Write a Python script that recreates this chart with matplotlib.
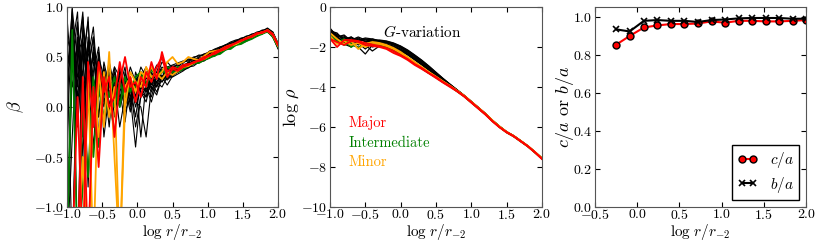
import numpy as np
import matplotlib
matplotlib.use("Agg")
import matplotlib.pyplot as plt

plt.rcParams["font.family"] = ["cmr10"]
plt.rcParams["mathtext.fontset"] = "cm"
plt.rcParams["axes.formatter.use_mathtext"] = True
plt.rcParams["axes.unicode_minus"] = True
plt.rcParams["xtick.direction"] = "in"
plt.rcParams["ytick.direction"] = "in"
plt.rcParams["xtick.top"] = True
plt.rcParams["ytick.right"] = True
plt.rcParams["xtick.labelsize"] = 10
plt.rcParams["ytick.labelsize"] = 10
plt.rcParams["xtick.major.pad"] = 0.5
plt.rcParams["ytick.major.pad"] = 2
plt.rcParams["axes.edgecolor"] = "#555555"

# ------------------------------
# panel 1: velocity anisotropy beta
# ------------------------------
r_beta = np.arange(-1.0, 2.0001, 0.075)

beta_black = [
    [0.3, 0.98, 0.45, 0.9, 0.2, 0.55, -0.1, 0.4, 0.1, 0.35, 0.05, 0.3, 0.15, 0.25, 0.1, 0.3, 0.22, 0.35, 0.28, 0.4,
     0.36, 0.40, 0.39, 0.44, 0.45, 0.49, 0.48, 0.53, 0.55, 0.57, 0.61, 0.62, 0.66, 0.66, 0.70, 0.70, 0.74, 0.74, 0.77, 0.71, 0.59],
    [-1.5, 0.6, 0.95, -0.3, 0.7, 0.1, 0.45, -0.2, 0.3, 0.05, 0.4, 0.0, 0.2, -0.1, 0.25, 0.15, 0.3, 0.2, 0.38, 0.3,
     0.38, 0.36, 0.43, 0.41, 0.47, 0.45, 0.51, 0.50, 0.56, 0.56, 0.61, 0.61, 0.66, 0.65, 0.70, 0.69, 0.74, 0.73, 0.77, 0.73, 0.61],
    [0.0, 1.0, -1.5, 0.85, 0.4, 0.7, 0.2, 0.35, -0.05, 0.3, 0.1, 0.2, -0.05, 0.35, 0.2, 0.25, 0.15, 0.3, 0.25, 0.33,
     0.34, 0.39, 0.40, 0.42, 0.46, 0.46, 0.50, 0.51, 0.54, 0.57, 0.59, 0.62, 0.64, 0.67, 0.68, 0.71, 0.72, 0.75, 0.78, 0.74, 0.62],
    [-1.5, -0.3, 0.8, 0.3, 0.9, -0.2, 0.5, 0.1, 0.4, 0.15, 0.3, -0.05, 0.1, -0.4, 0.15, 0.05, 0.3, 0.25, 0.32, 0.28,
     0.33, 0.37, 0.38, 0.43, 0.44, 0.48, 0.49, 0.52, 0.53, 0.58, 0.58, 0.63, 0.64, 0.66, 0.69, 0.72, 0.73, 0.76, 0.76, 0.72, 0.60],
    [0.5, 0.35, 0.6, -0.5, 0.65, 0.3, -0.1, 0.45, 0.2, 0.4, 0.05, 0.25, 0.3, 0.1, 0.35, 0.2, 0.1, 0.3, 0.4, 0.35,
     0.40, 0.42, 0.40, 0.45, 0.48, 0.47, 0.52, 0.52, 0.57, 0.57, 0.62, 0.63, 0.65, 0.68, 0.68, 0.72, 0.72, 0.76, 0.79, 0.75, 0.63],
    [-0.3, 0.9, 0.0, 0.65, -0.8, 0.45, 0.25, 0.0, 0.35, -0.1, 0.25, 0.1, 0.3, 0.05, 0.0, -0.3, 0.2, 0.12, 0.3, 0.22,
     0.31, 0.35, 0.37, 0.39, 0.43, 0.44, 0.47, 0.49, 0.53, 0.55, 0.58, 0.60, 0.63, 0.65, 0.68, 0.70, 0.72, 0.74, 0.75, 0.70, 0.58],
    [0.9, 0.2, 0.5, 0.7, 0.1, 0.6, 0.3, 0.2, 0.45, 0.2, 0.0, 0.35, 0.1, 0.2, 0.4, 0.3, 0.38, 0.3, 0.45, 0.4,
     0.42, 0.44, 0.46, 0.47, 0.50, 0.51, 0.53, 0.55, 0.58, 0.60, 0.62, 0.65, 0.67, 0.68, 0.71, 0.72, 0.75, 0.76, 0.78, 0.75, 0.64],
    [-1.5, 0.75, 0.3, 0.5, 0.85, 0.0, 0.55, -0.3, 0.15, 0.25, -0.2, 0.1, 0.2, -0.2, 0.1, 0.2, 0.05, 0.25, 0.2, 0.3,
     0.30, 0.33, 0.36, 0.40, 0.41, 0.45, 0.46, 0.50, 0.52, 0.54, 0.57, 0.60, 0.62, 0.65, 0.67, 0.70, 0.71, 0.74, 0.76, 0.71, 0.59],
    [0.6, -1.5, 0.7, 0.0, 0.5, 0.8, 0.1, 0.3, -0.2, 0.4, 0.3, 0.15, 0.4, 0.25, 0.2, 0.35, 0.3, 0.42, 0.35, 0.45,
     0.39, 0.43, 0.45, 0.46, 0.49, 0.52, 0.51, 0.56, 0.57, 0.60, 0.61, 0.64, 0.66, 0.69, 0.70, 0.73, 0.74, 0.77, 0.77, 0.73, 0.62],
    [-1.5, 0.4, 0.6, 0.2, 0.35, 0.7, -0.3, 0.25, 0.05, -0.25, 0.2, 0.4, 0.0, 0.3, 0.15, 0.1, 0.35, 0.2, 0.3, 0.35,
     0.35, 0.38, 0.42, 0.44, 0.45, 0.48, 0.50, 0.53, 0.55, 0.56, 0.60, 0.62, 0.65, 0.67, 0.69, 0.71, 0.73, 0.75, 0.78, 0.74, 0.61],
    [0.2, 0.8, -0.2, 0.55, 0.3, -0.4, 0.35, 0.15, 0.3, 0.1, 0.35, 0.2, 0.05, 0.25, -0.3, 0.25, 0.2, 0.3, 0.25, 0.32,
     0.37, 0.37, 0.41, 0.44, 0.46, 0.49, 0.49, 0.54, 0.54, 0.59, 0.60, 0.64, 0.63, 0.68, 0.69, 0.72, 0.72, 0.76, 0.77, 0.72, 0.60],
    [-1.5, -1.5, 0.5, 0.95, 0.0, 0.35, 0.6, 0.05, 0.2, 0.3, 0.15, -0.15, 0.25, 0.15, 0.3, 0.4, 0.25, 0.35, 0.5, 0.38,
     0.41, 0.41, 0.44, 0.48, 0.47, 0.50, 0.53, 0.54, 0.56, 0.59, 0.62, 0.62, 0.66, 0.67, 0.70, 0.71, 0.74, 0.75, 0.78, 0.73, 0.62],
    [0.7, 0.5, 0.85, 0.15, 0.6, 0.2, 0.4, 0.05, 0.25, 0.15, 0.3, 0.25, 0.1, 0.3, 0.2, 0.15, 0.28, 0.32, 0.3, 0.38,
     0.36, 0.39, 0.41, 0.43, 0.45, 0.47, 0.49, 0.51, 0.54, 0.56, 0.59, 0.61, 0.64, 0.66, 0.69, 0.71, 0.73, 0.75, 0.77, 0.72, 0.61],
    [-1.5, 0.9, 0.2, 0.75, 0.45, 0.05, 0.5, 0.3, 0.0, 0.3, 0.2, 0.0, 0.3, 0.1, 0.25, 0.3, 0.18, 0.25, 0.35, 0.3,
     0.34, 0.38, 0.39, 0.42, 0.45, 0.46, 0.49, 0.52, 0.54, 0.57, 0.59, 0.62, 0.65, 0.66, 0.69, 0.70, 0.73, 0.75, 0.77, 0.73, 0.61],
    [0.4, 0.65, 0.1, 0.6, 0.25, 0.5, 0.1, 0.35, 0.15, 0.05, 0.35, 0.15, 0.25, 0.0, 0.2, 0.1, 0.25, 0.15, 0.3, 0.27,
     0.32, 0.35, 0.38, 0.40, 0.43, 0.45, 0.48, 0.50, 0.53, 0.55, 0.58, 0.61, 0.63, 0.66, 0.68, 0.70, 0.73, 0.74, 0.76, 0.71, 0.60],
]

beta_major = [
    [-1.5, -1.5, 0.1, -1.5, 0.45, -0.2, 0.45, 0.15, 0.3, -0.3, 0.25, 0.5, 0.2, 0.25, 0.1, 0.35, 0.25, 0.4, 0.5, 0.3,
     0.38, 0.36, 0.40, 0.42, 0.45, 0.46, 0.48, 0.52, 0.53, 0.56, 0.58, 0.61, 0.64, 0.66, 0.69, 0.70, 0.73, 0.75, 0.76, 0.72, 0.62],
    [-1.5, -1.5, -1.5, 0.3, -1.5, 0.2, -0.6, 0.3, 0.0, 0.1, 0.45, 0.15, 0.3, 0.05, 0.3, 0.2, 0.45, 0.28, 0.55, 0.35,
     0.40, 0.38, 0.42, 0.43, 0.44, 0.47, 0.50, 0.51, 0.55, 0.57, 0.60, 0.62, 0.64, 0.67, 0.68, 0.71, 0.74, 0.74, 0.77, 0.73, 0.62],
]
beta_inter = [
    [-1.5, 0.77, -1.5, -0.8, 0.1, -0.5, 0.2, -0.1, 0.15, 0.0, 0.25, 0.1, 0.2, 0.2, 0.3, 0.25, 0.3, 0.32, 0.36, 0.33,
     0.35, 0.35, 0.38, 0.41, 0.44, 0.44, 0.47, 0.49, 0.52, 0.53, 0.57, 0.59, 0.62, 0.63, 0.66, 0.69, 0.71, 0.74, 0.75, 0.72, 0.62],
    [-1.5, -1.5, -1.5, 0.0, -0.7, 0.3, -0.4, 0.2, 0.1, 0.3, 0.0, 0.3, 0.15, 0.3, 0.35, 0.2, 0.38, 0.3, 0.35, 0.4,
     0.37, 0.40, 0.39, 0.42, 0.43, 0.46, 0.48, 0.50, 0.51, 0.55, 0.58, 0.58, 0.62, 0.64, 0.66, 0.68, 0.71, 0.73, 0.76, 0.70, 0.60],
]
beta_minor = [
    [-1.5, -1.5, -1.5, -1.5, 0.3, -1.5, 0.4, -0.2, 0.55, -0.5, -1.5, 0.2, 0.3, 0.15, 0.35, 0.3, 0.4, 0.3, 0.35, 0.45,
     0.50, 0.43, 0.45, 0.50, 0.48, 0.47, 0.51, 0.55, 0.56, 0.57, 0.60, 0.62, 0.63, 0.66, 0.69, 0.71, 0.73, 0.74, 0.77, 0.73, 0.62],
    [-1.5, -1.5, -1.5, -0.5, -1.5, 0.1, -0.3, 0.35, -0.1, 0.2, -1.5, 0.0, 0.35, 0.25, 0.2, 0.4, 0.3, 0.33, 0.28, 0.35,
     0.32, 0.36, 0.40, 0.41, 0.44, 0.47, 0.48, 0.51, 0.55, 0.56, 0.58, 0.61, 0.63, 0.66, 0.69, 0.70, 0.73, 0.75, 0.76, 0.72, 0.61],
]

# ------------------------------
# panel 2: density profiles log rho
# ------------------------------
r_rho = np.arange(-1.0, 2.0001, 0.1)

rho_black = [
    [-1.1, -1.4, -1.6, -1.5, -1.7, -1.6, -1.65, -1.7, -1.75, -1.85, -2.0, -2.2, -2.45, -2.7, -3.0, -3.3, -3.6, -3.88, -4.15, -4.42, -4.72, -5.02, -5.32, -5.66, -5.96, -6.23, -6.43, -6.68, -6.94, -7.24, -7.56],
    [-1.2, -1.5, -1.4, -1.7, -1.55, -1.75, -1.6, -1.7, -1.8, -1.9, -2.05, -2.25, -2.5, -2.78, -3.05, -3.35, -3.63, -3.9, -4.17, -4.44, -4.74, -5.04, -5.34, -5.68, -5.98, -6.25, -6.45, -6.7, -6.95, -7.25, -7.57],
    [-1.3, -1.35, -1.6, -1.8, -1.6, -1.7, -1.75, -1.75, -1.85, -1.95, -2.1, -2.3, -2.55, -2.82, -3.1, -3.38, -3.65, -3.92, -4.18, -4.45, -4.75, -5.05, -5.35, -5.69, -5.99, -6.26, -6.46, -6.71, -6.96, -7.26, -7.58],
    [-1.15, -1.55, -1.75, -1.5, -1.8, -2.1, -1.8, -1.8, -1.9, -2.0, -2.15, -2.35, -2.6, -2.86, -3.13, -3.4, -3.67, -3.93, -4.19, -4.46, -4.76, -5.06, -5.36, -5.7, -6.0, -6.26, -6.46, -6.71, -6.96, -7.26, -7.58],
    [-1.4, -1.6, -1.5, -1.9, -2.0, -2.35, -1.9, -1.85, -1.95, -2.05, -2.2, -2.4, -2.65, -2.9, -3.16, -3.42, -3.69, -3.94, -4.2, -4.46, -4.76, -5.06, -5.36, -5.7, -6.0, -6.26, -6.46, -6.71, -6.96, -7.26, -7.58],
    [-1.25, -1.45, -1.8, -1.65, -1.5, -1.65, -1.7, -1.65, -1.7, -1.8, -1.95, -2.15, -2.4, -2.66, -2.95, -3.26, -3.57, -3.86, -4.14, -4.42, -4.72, -5.02, -5.33, -5.67, -5.97, -6.24, -6.44, -6.69, -6.95, -7.25, -7.57],
    [-1.35, -1.7, -1.55, -1.6, -1.9, -1.75, -2.0, -1.9, -1.9, -2.0, -2.12, -2.32, -2.58, -2.84, -3.12, -3.4, -3.66, -3.92, -4.18, -4.45, -4.75, -5.05, -5.35, -5.69, -5.99, -6.26, -6.46, -6.71, -6.96, -7.26, -7.58],
    [-1.2, -1.3, -1.7, -1.55, -1.65, -1.55, -1.6, -1.68, -1.72, -1.82, -1.97, -2.18, -2.42, -2.68, -2.97, -3.28, -3.58, -3.87, -4.15, -4.43, -4.73, -5.03, -5.33, -5.67, -5.97, -6.24, -6.44, -6.69, -6.95, -7.25, -7.57],
    [-1.5, -1.65, -1.85, -2.0, -1.7, -1.9, -2.2, -1.95, -1.95, -2.05, -2.2, -2.38, -2.62, -2.88, -3.15, -3.42, -3.68, -3.94, -4.2, -4.46, -4.76, -5.06, -5.36, -5.7, -6.0, -6.26, -6.46, -6.71, -6.96, -7.26, -7.58],
    [-1.05, -1.5, -1.45, -1.75, -1.7, -1.6, -1.7, -1.72, -1.78, -1.88, -2.02, -2.22, -2.47, -2.74, -3.02, -3.32, -3.61, -3.89, -4.16, -4.44, -4.74, -5.04, -5.34, -5.68, -5.98, -6.25, -6.45, -6.7, -6.95, -7.25, -7.57],
]
rho_major = [
    [-1.58, -2.0, -1.65, -1.65, -1.7, -1.8, -1.88, -1.95, -2.05, -2.2, -2.4, -2.6, -2.85, -3.05, -3.3, -3.5, -3.75, -3.95, -4.2, -4.45, -4.75, -5.05, -5.35, -5.7, -6.0, -6.25, -6.45, -6.7, -6.95, -7.25, -7.58],
    [-1.6, -1.75, -1.9, -1.7, -1.75, -1.9, -1.95, -2.0, -2.1, -2.3, -2.45, -2.65, -2.9, -3.1, -3.32, -3.55, -3.78, -4.0, -4.22, -4.48, -4.78, -5.08, -5.38, -5.72, -6.02, -6.27, -6.47, -6.72, -6.97, -7.27, -7.6],
]
rho_inter = [
    [-1.5, -1.8, -1.6, -2.0, -1.75, -1.85, -1.8, -1.95, -2.0, -2.15, -2.35, -2.55, -2.8, -3.05, -3.3, -3.5, -3.73, -3.95, -4.2, -4.45, -4.75, -5.05, -5.35, -5.68, -5.98, -6.25, -6.45, -6.7, -6.95, -7.25, -7.55],
    [-1.4, -1.7, -1.9, -1.8, -2.05, -1.8, -1.9, -1.9, -2.0, -2.2, -2.4, -2.6, -2.83, -3.08, -3.3, -3.52, -3.76, -3.97, -4.22, -4.47, -4.77, -5.07, -5.37, -5.7, -6.0, -6.27, -6.47, -6.72, -6.97, -7.27, -7.57],
]
rho_minor = [
    [-1.3, -1.6, -1.85, -1.7, -2.1, -1.85, -1.75, -1.8, -1.9, -2.05, -2.25, -2.5, -2.75, -3.0, -3.25, -3.48, -3.72, -3.94, -4.18, -4.43, -4.73, -5.03, -5.33, -5.67, -5.97, -6.24, -6.44, -6.69, -6.94, -7.24, -7.55],
    [-1.45, -1.85, -1.7, -1.9, -1.8, -2.0, -1.85, -1.85, -1.95, -2.1, -2.3, -2.55, -2.78, -3.02, -3.27, -3.5, -3.74, -3.96, -4.2, -4.46, -4.76, -5.06, -5.36, -5.7, -6.0, -6.26, -6.46, -6.71, -6.96, -7.26, -7.58],
]

# ------------------------------
# panel 3: axis ratios
# ------------------------------
r_shape = [-0.25, -0.09, 0.08, 0.24, 0.40, 0.56, 0.72, 0.88, 1.04, 1.20, 1.36, 1.52, 1.68, 1.84, 2.00]
c_over_a = [0.856, 0.902, 0.947, 0.958, 0.965, 0.965, 0.968, 0.979, 0.972, 0.982, 0.982, 0.979, 0.979, 0.982, 0.986]
b_over_a = [0.937, 0.926, 0.982, 0.986, 0.982, 0.982, 0.976, 0.986, 0.989, 0.995, 0.997, 0.997, 0.997, 0.993, 0.993]

xlabel = r"$\log\, r/r_{-2}$"

fig = plt.figure(figsize=(8.31, 2.41), dpi=100)
ax1 = fig.add_axes([0.0806, 0.141, 0.254, 0.830])
ax2 = fig.add_axes([0.3971, 0.141, 0.255, 0.830])
ax3 = fig.add_axes([0.7160, 0.141, 0.254, 0.830])

# panel 1
for y in beta_black:
    ax1.plot(r_beta, y, color="black", lw=0.8)
for y in beta_inter:
    ax1.plot(r_beta, y, color="green", lw=1.3)
for y in beta_minor:
    ax1.plot(r_beta, y, color="orange", lw=1.3)
for y in beta_major:
    ax1.plot(r_beta, y, color="red", lw=1.3)
ax1.set_xlim(-1.0, 2.0)
ax1.set_ylim(-1.0, 1.0)
ax1.set_xticks([-1.0, -0.5, 0.0, 0.5, 1.0, 1.5, 2.0])
ax1.set_yticks([-1.0, -0.5, 0.0, 0.5, 1.0])
ax1.set_xlabel(xlabel, fontsize=11, labelpad=0)
ax1.set_ylabel(r"$\beta$", fontsize=13, labelpad=6)

# panel 2
for y in rho_black:
    ax2.plot(r_rho, y, color="black", lw=0.9)
for y in rho_inter:
    ax2.plot(r_rho, y, color="green", lw=1.3)
for y in rho_minor:
    ax2.plot(r_rho, y, color="orange", lw=1.3)
for y in rho_major:
    ax2.plot(r_rho, y, color="red", lw=1.3)
ax2.set_xlim(-1.0, 2.0)
ax2.set_ylim(-10, 0)
ax2.set_xticks([-1.0, -0.5, 0.0, 0.5, 1.0, 1.5, 2.0])
ax2.set_yticks([-10, -8, -6, -4, -2, 0])
ax2.set_xlabel(xlabel, fontsize=11, labelpad=0)
ax2.set_ylabel(r"$\log\,\rho$", fontsize=13, labelpad=0)
ax2.text(-0.25, -1.25, r"$G$-variation", fontsize=11, va="center")
ax2.text(-0.74, -6.0, "Major", color="red", fontsize=10.5)
ax2.text(-0.74, -7.0, "Intermediate", color="green", fontsize=10.5)
ax2.text(-0.74, -7.95, "Minor", color="orange", fontsize=10.5)

# panel 3
ax3.plot(r_shape, c_over_a, color="red", lw=1.5, marker="o", ms=5,
         mfc="red", mec="black", label=r"$c/a$")
ax3.plot(r_shape, b_over_a, color="black", lw=1.5, marker="x", ms=5,
         mew=1.2, label=r"$b/a$")
ax3.set_xlim(-0.5, 2.0)
ax3.set_ylim(0.0, 1.055)
ax3.set_xticks([-0.5, 0.0, 0.5, 1.0, 1.5, 2.0])
ax3.set_yticks([0.0, 0.2, 0.4, 0.6, 0.8, 1.0])
ax3.set_xlabel(xlabel, fontsize=11, labelpad=0)
ax3.set_ylabel(r"$c/a$ or $b/a$", fontsize=13, labelpad=-2)
leg = ax3.legend(loc="lower right", fontsize=11, numpoints=2, fancybox=False,
                 framealpha=1, edgecolor="black", handlelength=1.3,
                 handletextpad=0.8, labelspacing=0.3, borderpad=0.35,
                 borderaxespad=0.45)

fig.savefig("out.png", dpi=100)
